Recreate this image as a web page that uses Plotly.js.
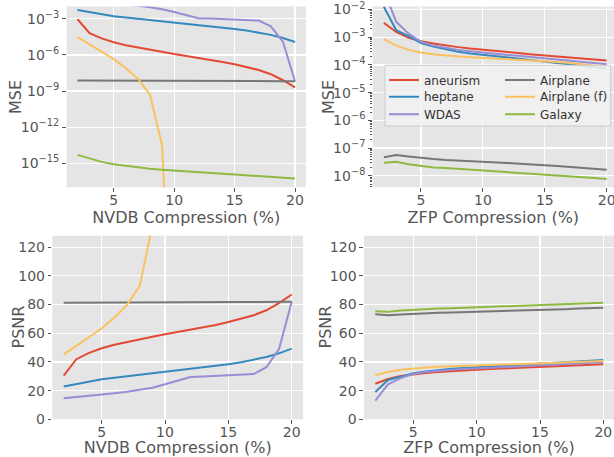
<!DOCTYPE html>
<html><head><meta charset="utf-8">
<script src="https://cdn.plot.ly/plotly-3.0.1.min.js"></script>
<style>html,body{margin:0;padding:0;background:#fff;overflow:hidden}#chart{width:614px;height:457px}</style>
</head><body><div id="chart"></div>
<script>
// compression ratio (%)
const compression = [2,3,4,5,6,7,8,9,10,11,12,13,14,15,16,17,18,19,20];
const seriesNames = ['aneurism','heptane','WDAS','Airplane','Airplane (f)','Galaxy'];
const seriesColors = ['#E24A33','#348ABD','#988ED5','#777777','#FBC15E','#8EBA42'];

// ---- NVDB : MSE ----
const nvdbMseAneurism = [9.1e-4,6.5e-5,2.34e-5,1.12e-5,6.3e-6,4.0e-6,2.57e-6,1.74e-6,1.17e-6,8.1e-7,5.75e-7,4.0e-7,2.63e-7,1.66e-7,1.0e-7,5.6e-8,2.5e-8,7.9e-9,2.0e-9];
const nvdbMseHeptane = [5.25e-3,3.47e-3,2.29e-3,1.62e-3,1.26e-3,1.0e-3,7.9e-4,6.3e-4,5.0e-4,4.0e-4,3.16e-4,2.45e-4,1.9e-4,1.45e-4,1.05e-4,7.2e-5,4.6e-5,2.5e-5,1.17e-5];
const nvdbMseWDAS = [3.47e-2,2.88e-2,2.34e-2,1.9e-2,1.51e-2,1.2e-2,9.1e-3,6.3e-3,3.6e-3,2.0e-3,1.12e-3,1.05e-3,9.8e-4,8.9e-4,7.9e-4,7.1e-4,2.34e-4,1.26e-5,6.3e-9];
const nvdbMseAirplane = [7.6e-9,7.6e-9,7.5e-9,7.4e-9,7.4e-9,7.3e-9,7.3e-9,7.2e-9,7.1e-9,7.1e-9,7.0e-9,7.0e-9,6.9e-9,6.9e-9,6.8e-9,6.7e-9,6.7e-9,6.6e-9,6.5e-9];
const nvdbMseAirplaneF = [2.95e-5,7.9e-6,1.9e-6,4.5e-7,7.9e-8,1.05e-8,5.0e-10,3.2e-14,0,0,0,0,0,0,0,0,0,0,0];
const nvdbMseGalaxy = [5.0e-15,2.4e-15,1.32e-15,8.3e-16,6.0e-16,4.6e-16,3.6e-16,3.0e-16,2.5e-16,2.1e-16,1.8e-16,1.6e-16,1.35e-16,1.17e-16,1.0e-16,8.5e-17,7.2e-17,6.3e-17,5.4e-17];

// ---- ZFP : MSE ----
const zfpMseAneurism = [3.3e-3,1.55e-3,9.5e-4,7.2e-4,5.9e-4,5.0e-4,4.4e-4,3.9e-4,3.5e-4,3.2e-4,2.9e-4,2.6e-4,2.4e-4,2.2e-4,2.0e-4,1.86e-4,1.7e-4,1.58e-4,1.45e-4];
const zfpMseHeptane = [1.26e-2,1.8e-3,1.1e-3,6.2e-4,4.6e-4,3.6e-4,3.0e-4,2.6e-4,2.3e-4,2.1e-4,1.86e-4,1.66e-4,1.48e-4,1.32e-4,1.17e-4,1.05e-4,9.3e-5,8.3e-5,7.4e-5];
const zfpMseWDAS = [5.0e-2,3.6e-3,1.35e-3,6.9e-4,5.0e-4,4.1e-4,3.5e-4,3.1e-4,2.75e-4,2.5e-4,2.3e-4,2.1e-4,1.9e-4,1.74e-4,1.58e-4,1.45e-4,1.32e-4,1.2e-4,1.07e-4];
const zfpMseAirplane = [4.7e-8,5.6e-8,5.0e-8,4.4e-8,4.0e-8,3.7e-8,3.55e-8,3.4e-8,3.2e-8,3.1e-8,2.9e-8,2.7e-8,2.6e-8,2.4e-8,2.24e-8,2.1e-8,1.9e-8,1.78e-8,1.66e-8];
const zfpMseAirplaneF = [8.5e-4,5.0e-4,3.5e-4,2.8e-4,2.45e-4,2.2e-4,2.0e-4,1.9e-4,1.8e-4,1.74e-4,1.66e-4,1.58e-4,1.48e-4,1.38e-4,1.29e-4,1.17e-4,1.07e-4,9.5e-5,8.7e-5];
const zfpMseGalaxy = [2.95e-8,3.2e-8,2.6e-8,2.24e-8,2.0e-8,1.9e-8,1.78e-8,1.66e-8,1.58e-8,1.48e-8,1.38e-8,1.29e-8,1.2e-8,1.12e-8,1.05e-8,9.8e-9,8.9e-9,8.3e-9,7.6e-9];

// ---- NVDB : PSNR ----
const nvdbPsnrAneurism = [30.4,41.9,46.3,49.5,52.0,54.0,55.9,57.6,59.3,60.9,62.4,64.0,65.8,67.8,70.0,72.5,76.0,81.0,87.0];
const nvdbPsnrHeptane = [22.8,24.6,26.4,27.9,29.0,30.0,31.0,32.0,33.0,34.0,35.0,36.1,37.2,38.4,39.8,41.4,43.4,46.0,49.3];
const nvdbPsnrWDAS = [14.6,15.4,16.3,17.2,18.2,19.2,20.4,22.0,24.4,27.0,29.5,29.8,30.1,30.5,31.0,31.5,36.3,49.0,82.0];
const nvdbPsnrAirplane = [81.2,81.2,81.25,81.3,81.3,81.35,81.35,81.4,81.5,81.5,81.55,81.55,81.6,81.6,81.7,81.75,81.75,81.8,81.9];
const nvdbPsnrAirplaneF = [45.3,51.0,57.2,63.5,71.0,79.8,93.0,135.0,null,null,null,null,null,null,null,null,null,null,null];
const nvdbPsnrGalaxy = [143.0,146.2,148.8,150.8,152.2,153.4,154.4,155.2,156.0,156.7,157.4,158.0,158.7,159.3,160.0,160.7,161.4,162.0,162.7];

// ---- ZFP : PSNR ----
const zfpPsnrAneurism = [24.8,28.1,30.2,31.4,32.3,33.0,33.6,34.1,34.6,35.0,35.4,35.8,36.2,36.5,36.9,37.3,37.7,38.0,38.4];
const zfpPsnrHeptane = [19.0,27.4,29.6,32.1,33.4,34.4,35.2,35.8,36.3,36.8,37.3,37.8,38.3,38.8,39.3,39.8,40.3,40.8,41.3];
const zfpPsnrWDAS = [13.0,24.4,28.7,31.6,33.0,33.9,34.6,35.1,35.6,36.0,36.4,36.8,37.2,37.6,38.0,38.4,38.8,39.2,39.7];
const zfpPsnrAirplane = [73.3,72.5,73.0,73.6,74.0,74.3,74.5,74.7,74.9,75.1,75.4,75.7,75.9,76.2,76.5,76.8,77.2,77.5,77.8];
const zfpPsnrAirplaneF = [30.7,33.0,34.5,35.5,36.1,36.6,36.9,37.2,37.4,37.6,37.8,38.0,38.3,38.6,38.9,39.3,39.7,40.2,40.6];
const zfpPsnrGalaxy = [75.3,74.9,75.9,76.5,76.9,77.2,77.5,77.8,78.0,78.3,78.6,78.9,79.2,79.5,79.8,80.1,80.5,80.8,81.2];

const msTicks = [1e-15,1e-12,1e-9,1e-6,1e-3];
const msTickText = ['10<sup>−15</sup>','10<sup>−12</sup>','10<sup>−9</sup>','10<sup>−6</sup>','10<sup>−3</sup>'];
const zfpTicks = [1e-8,1e-7,1e-6,1e-5,1e-4,1e-3,1e-2];
const zfpTickText = ['10<sup>−8</sup>','10<sup>−7</sup>','10<sup>−6</sup>','10<sup>−5</sup>','10<sup>−4</sup>','10<sup>−3</sup>','10<sup>−2</sup>'];
const compTicks = [5,10,15,20];
const psnrTicks = [0,20,40,60,80,100,120];
const xTitles = ['NVDB Compression (%)','ZFP Compression (%)'];
const yTitles = ['MSE','PSNR'];

// zero MSE on a log axis: clip to a tiny positive value (like matplotlib's nonpositive='clip')
const clipLog = arr => arr.map(v => (v === 0 ? 1e-100 : v));

const legendIds = ['legend','legend3','legend5','legend2','legend4','legend6'];
const panels = [
  {xa:'x', ya:'y', data:[nvdbMseAneurism,nvdbMseHeptane,nvdbMseWDAS,nvdbMseAirplane,clipLog(nvdbMseAirplaneF),nvdbMseGalaxy], legend:false},
  {xa:'x2', ya:'y2', data:[zfpMseAneurism,zfpMseHeptane,zfpMseWDAS,zfpMseAirplane,zfpMseAirplaneF,zfpMseGalaxy], legend:true},
  {xa:'x3', ya:'y3', data:[nvdbPsnrAneurism,nvdbPsnrHeptane,nvdbPsnrWDAS,nvdbPsnrAirplane,nvdbPsnrAirplaneF,nvdbPsnrGalaxy], legend:false},
  {xa:'x4', ya:'y4', data:[zfpPsnrAneurism,zfpPsnrHeptane,zfpPsnrWDAS,zfpPsnrAirplane,zfpPsnrAirplaneF,zfpPsnrGalaxy], legend:false}
];

const traces = [];
panels.forEach(p => {
  p.data.forEach((ys, i) => {
    traces.push({
      type:'scatter', mode:'lines', x:compression, y:ys,
      xaxis:p.xa, yaxis:p.ya, name:seriesNames[i],
      line:{color:seriesColors[i], width:2},
      showlegend:p.legend, legend:legendIds[i],
      connectgaps:false, cliponaxis:true
    });
  });
});

const font = 'DejaVu Sans, sans-serif';
const tickfont = {family:font, size:14, color:'#555555'};
const titlefont = {family:font, size:16, color:'#555555'};
const common = {
  showgrid:true, gridcolor:'#FFFFFF', gridwidth:1.2, zeroline:false, showline:false,
  ticks:'outside', ticklen:3.5, tickwidth:1, tickcolor:'#555555', tickfont:tickfont,
  automargin:false, fixedrange:true, ticklabeloverflow:'allow'
};
function xax(domain, range, anchor, title) {
  return Object.assign({}, common, {domain, range, anchor, tickmode:'array', tickvals:compTicks,
    ticklabelstandoff:-4, title:{text:title, font:titlefont, standoff:1}});
}
function yax(domain, range, anchor, extra) {
  return Object.assign({}, common, {domain, range, anchor}, extra);
}

const H = 457, W = 614;
const topDom = [1-187.3/H, 1-6.5/H];
const botDom = [1-419.3/H, 1-235.7/H];
const legFont = {family:font, size:12, color:'#333333'};
function leg(xpx, ypx) {
  return {x:xpx/W, y:1-ypx/H, xanchor:'left', yanchor:'middle', bgcolor:'rgba(0,0,0,0)', borderwidth:0, font:legFont};
}
// y-axis titles placed as rotated annotations next to each panel
function ytitle(text, xpx, ypx) {
  return {text, xref:'paper', yref:'paper', x:xpx/W, y:1-ypx/H, xanchor:'center', yanchor:'middle',
    textangle:-90, showarrow:false, font:titlefont};
}

const layout = {
  width:W, height:H, margin:{l:0,r:0,t:0,b:0},
  paper_bgcolor:'#FFFFFF', plot_bgcolor:'#E5E5E5',
  font:{family:font, color:'#555555'},
  xaxis: xax([66.6/W, 305.9/W], [1.1,20.9], 'y', xTitles[0]),
  yaxis: yax(topDom, [-16.99,-1.98], 'x', {type:'log', tickmode:'array', tickvals:msTicks, ticktext:msTickText}),
  xaxis2: xax([372.7/W, 1], [1.1,20.59], 'y2', xTitles[1]),
  yaxis2: yax(topDom, [-8.416,-1.89], 'x2', {type:'log', tickmode:'array', tickvals:zfpTicks, ticktext:zfpTickText,
    minor:{ticks:'outside', ticklen:2, tickcolor:'#555555', dtick:'D1', showgrid:false}}),
  xaxis3: xax([52.3/W, 303.1/W], [1.1,20.9], 'y3', xTitles[0]),
  yaxis3: yax(botDom, [0,128], 'x3', {tickmode:'array', tickvals:psnrTicks}),
  xaxis4: xax([363.9/W, 1], [1.1,20.84], 'y4', xTitles[1]),
  yaxis4: yax(botDom, [0,128], 'x4', {tickmode:'array', tickvals:psnrTicks}),
  legend: leg(384, 80),
  legend3: leg(384, 96.7),
  legend5: leg(384, 114.3),
  legend2: leg(500, 80),
  legend4: leg(500, 96.7),
  legend6: leg(500, 114.3),
  annotations:[
    ytitle(yTitles[0], 15, 97),
    ytitle(yTitles[0], 328, 97),
    ytitle(yTitles[1], 18, 327.5),
    ytitle(yTitles[1], 325, 327.5)
  ],
  shapes:[{type:'rect', xref:'paper', yref:'paper', x0:385/W, x1:610.7/W, y0:1-126/H, y1:1-65.3/H,
    fillcolor:'rgba(242,242,242,0.85)', line:{color:'#CCCCCC', width:1}, layer:'above'}]
};

Plotly.newPlot('chart', traces, layout, {staticPlot:true, displayModeBar:false});
</script></body></html>
